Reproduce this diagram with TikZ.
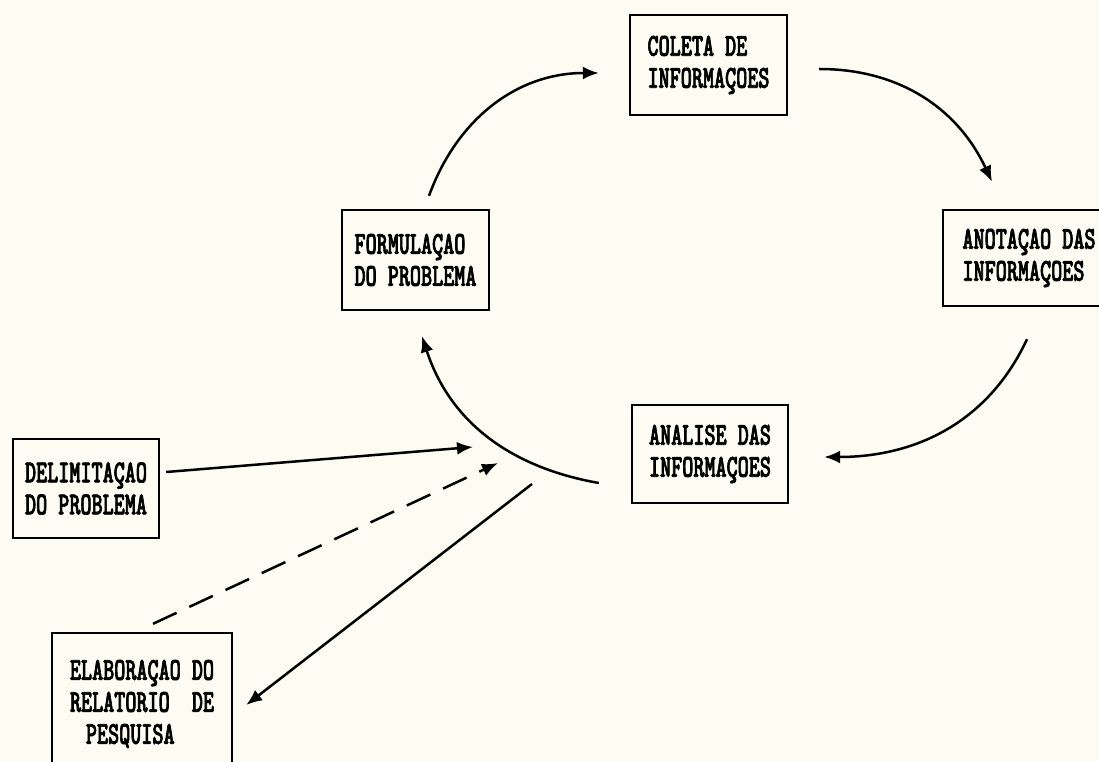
\documentclass[tikz,border=0pt]{standalone}
\usepackage{fontspec}
\usetikzlibrary{arrows.meta}
\newfontfamily\maquina{lmmonolt10-bold.otf}[FakeStretch=0.66,FakeBold=2]
\definecolor{papel}{RGB}{253,252,243}

\begin{document}
\begin{tikzpicture}[
		x=1pt, y=1pt,
		caixa/.style={draw, line width=2.4pt, align=left, inner sep=0pt, font=\fontsize{32}{32}\selectfont\maquina},
		seta/.style={line width=2.5pt, -{Latex[length=16pt,width=13pt]}},
		tracejada/.style={seta, dash pattern=on 26pt off 14pt}
		]
		\fill[papel] (0,0) rectangle (1099,761);
		\useasboundingbox (0,0) rectangle (1099,761);
		\node[caixa, minimum width=157, minimum height=100] (coleta) at (708.5,696) {COLETA DE\\INFORMAÇOES};
		\node[caixa, minimum width=147, minimum height=100] (form) at (415.5,501) {FORMULAÇAO\\DO PROBLEMA};
		\node[caixa, minimum width=172, minimum height=96] (anot) at (1029,503) {ANOTAÇAO DAS\\INFORMAÇOES};
		\node[caixa, minimum width=156, minimum height=98] (anal) at (710,307) {ANALISE DAS\\INFORMAÇOES};
		\node[caixa, minimum width=146, minimum height=99] (delim) at (86,272.5) {DELIMITAÇAO\\DO PROBLEMA};
		\node[caixa, minimum width=180, minimum height=142] (elab) at (142,57) {ELABORAÇAO DO\\RELATORIO\ \ DE\\\hspace*{0.5em}PESQUISA};
		\coordinate (meioA) at (473,314);
		\coordinate (meioB) at (498,298);
		\coordinate (meioC) at (532,277);
		\draw[seta] ([xshift=13.5pt,yshift=13pt]form.north) to[out=70,in=180] ([xshift=-30pt,yshift=-8pt]coleta.west);
		\draw[seta] ([xshift=31pt,yshift=-4pt]coleta.east) to[out=0,in=115] ([xshift=-37pt,yshift=27pt]anot.north);
		\draw[seta] ([xshift=-2pt,yshift=-32pt]anot.south) to[out=245,in=0] ([xshift=35pt,yshift=-3pt]anal.east);
		\draw[seta] ([xshift=-32pt,yshift=-29pt]anal.west) to[out=170,in=-72] ([xshift=6.5pt,yshift=-25pt]form.south);
		\draw[seta] ([xshift=6pt,yshift=16.5pt]delim.east) -- (meioA);
		\draw[tracejada] ([xshift=11pt,yshift=8pt]elab.north) -- (meioB);
		\draw[seta] (meioC) -- ([xshift=13pt,yshift=-1pt]elab.east);
	\end{tikzpicture}
\end{document}
